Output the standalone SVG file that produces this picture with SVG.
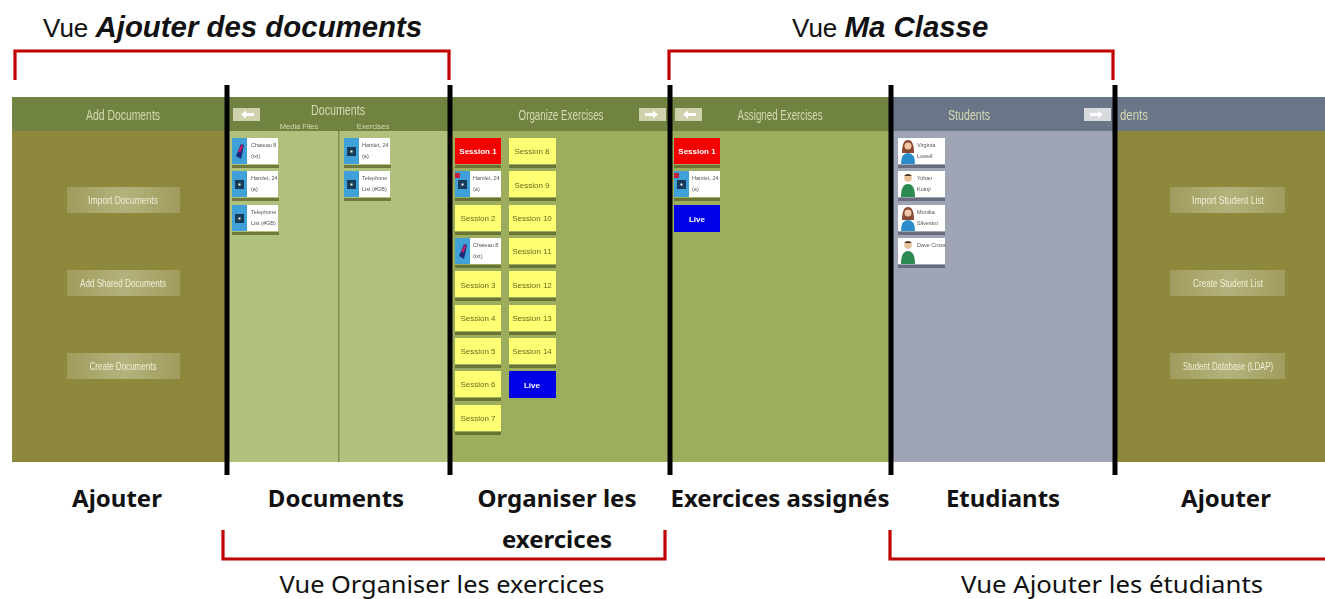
<svg xmlns="http://www.w3.org/2000/svg" width="1325" height="599" viewBox="0 0 1325 599">
<style>
text{font-family:"Liberation Sans",Arial,sans-serif}
.cal{font-family:"Noto Sans","Open Sans",sans-serif;fill:#111}
.b{font-weight:700;font-size:24px;text-anchor:middle}
.r{font-size:24px;text-anchor:middle}
.top{font-size:26px;fill:#111}
.bi{font-weight:700;font-style:italic;font-size:29.400px}
.h{font-size:14px;fill:#d5dab4;text-anchor:middle}
.sub{font-size:7.500px;fill:#d5dab4;text-anchor:middle}
.bt{font-size:10.500px;fill:#f0eed8;text-anchor:middle}
.arr{fill:#cfd2ad}
.arw{fill:#fff}
.sh{fill:#5b6128;opacity:.75}
.y{fill:#ffff73}
.yt{font-size:8px;fill:#6a6a20;text-anchor:middle}
.red{fill:#f40000}
.blue{fill:#0000e6}
.wt{font-size:8px;fill:#fff;text-anchor:middle;font-weight:700}
.w{fill:#fff}
.ct{font-size:5.500px;fill:#555}
.ib{fill:#3fa0d8}
.id{fill:#153a58}
.bar{stroke:#000;stroke-width:5;fill:none}
.br{stroke:#c00000;stroke-width:3.200;fill:none}
</style>
<defs>
<filter id="soft" x="-5%" y="-5%" width="110%" height="110%"><feGaussianBlur stdDeviation="0.75"/></filter>
<linearGradient id="bg" x1="0" y1="0" x2="1" y2="0"><stop offset="0" stop-color="#a09c5e"/><stop offset=".5" stop-color="#b4b27c"/><stop offset="1" stop-color="#a09c5e"/></linearGradient>
<g id="doc"><rect class="w" width="46" height="26"/><rect class="ib" width="15" height="26"/><rect class="id" x="3" y="9" width="9" height="9"/><rect class="w" x="6.500" y="12.500" width="2" height="2"/></g>
<g id="pic"><rect class="w" width="46" height="26"/><rect class="ib" width="15" height="26"/><path d="M4 18 L9 6 L12 7 L9 21 Z" fill="#1a2a7a"/><path d="M6 13 L10 6 L11 9 L8 15 Z" fill="#c0206a"/></g>
<g id="girl"><rect class="w" width="47" height="26"/><path d="M4 15 Q4 2 10 2 Q16 2 16 15 Z" fill="#8a4a32"/><circle cx="10" cy="8" r="3.500" fill="#f0c8a8"/><path d="M3 26 Q3 15 10 15 Q17 15 17 26 Z" fill="#2a8cc8"/></g>
<g id="boy"><rect class="w" width="47" height="26"/><circle cx="10" cy="7" r="3.800" fill="#e8c098"/><path d="M6 5 Q10 1 14 5 Z" fill="#4a3020"/><path d="M3 26 Q3 13 10 13 Q17 13 17 26 Z" fill="#2f8a52"/></g>
</defs>

<g id="panel-add-documents" filter="url(#soft)">
<rect x="12" y="131" width="215" height="331" fill="#8e883d"/>
<rect x="12" y="97" width="215" height="34" fill="#71833f"/>
<text class="h" x="123" y="120" textLength="74" lengthAdjust="spacingAndGlyphs">Add Documents</text>
<rect x="67" y="187" width="113" height="26" fill="url(#bg)"/><text class="bt" x="123" y="204" textLength="70" lengthAdjust="spacingAndGlyphs">Import Documents</text>
<rect x="67" y="270" width="113" height="26" fill="url(#bg)"/><text class="bt" x="123" y="287" textLength="86" lengthAdjust="spacingAndGlyphs">Add Shared Documents</text>
<rect x="67" y="353" width="113" height="26" fill="url(#bg)"/><text class="bt" x="123" y="370" textLength="67" lengthAdjust="spacingAndGlyphs">Create Documents</text>
</g>

<g id="panel-documents" filter="url(#soft)">
<rect x="227" y="131" width="223" height="331" fill="#b0c17e"/>
<rect x="227" y="97" width="223" height="34" fill="#71833f"/>
<rect x="338" y="131" width="1.500" height="331" fill="#7f9150"/>
<rect class="arr" x="233" y="108" width="27" height="13"/><path class="arw" d="M241 114.500 L246 110.500 V113 H254 V116 H246 V118.500 Z"/>
<text class="h" x="338" y="115" textLength="54" lengthAdjust="spacingAndGlyphs">Documents</text>
<text class="sub" x="299" y="129">Media Files</text><text class="sub" x="373" y="129">Exercises</text>
<rect class="sh" x="232" y="165" width="47" height="3"/><use href="#pic" x="232" y="138"/><text class="ct" x="251" y="147">Chateau 8</text><text class="ct" x="251" y="158">(txt)</text>
<rect class="sh" x="232" y="198" width="47" height="3"/><use href="#doc" x="232" y="171"/><text class="ct" x="251" y="180">Hamlet, 24</text><text class="ct" x="251" y="191">(a)</text>
<rect class="sh" x="232" y="232" width="47" height="3"/><use href="#doc" x="232" y="205"/><text class="ct" x="251" y="214">Telephone</text><text class="ct" x="251" y="225">List (#GB)</text>
<rect class="sh" x="344" y="165" width="47" height="3"/><use href="#doc" x="344" y="138"/><text class="ct" x="362" y="147">Hamlet, 24</text><text class="ct" x="362" y="158">(a)</text>
<rect class="sh" x="344" y="198" width="47" height="3"/><use href="#doc" x="344" y="171"/><text class="ct" x="362" y="180">Telephone</text><text class="ct" x="362" y="191">List (#GB)</text>
</g>

<g id="panel-organize-exercises" filter="url(#soft)">
<rect x="450" y="131" width="220" height="331" fill="#9cae5d"/>
<rect x="450" y="97" width="220" height="34" fill="#71833f"/>
<text class="h" x="561" y="120" textLength="85" lengthAdjust="spacingAndGlyphs">Organize Exercises</text>
<rect class="arr" x="639" y="108" width="27" height="13"/><path class="arw" d="M658 114.500 L653 110.500 V113 H645 V116 H653 V118.500 Z"/>
<rect class="sh" x="455" y="165" width="46" height="3"/><rect class="red" x="455" y="138" width="46" height="26"/><text class="wt" x="478" y="154">Session 1</text>
<rect class="sh" x="455" y="198" width="46" height="3"/><use href="#doc" x="455" y="171"/><rect x="455" y="173" width="5" height="5" fill="#c0203a"/><text class="ct" x="473" y="180">Hamlet, 24</text><text class="ct" x="473" y="191">(a)</text>
<rect class="sh" x="455" y="232" width="46" height="3"/><rect class="y" x="455" y="205" width="46" height="26"/><text class="yt" x="478" y="221">Session 2</text>
<rect class="sh" x="455" y="265" width="46" height="3"/><use href="#pic" x="455" y="238"/><text class="ct" x="473" y="247">Chateau 8</text><text class="ct" x="473" y="258">(txt)</text>
<rect class="sh" x="455" y="298" width="46" height="3"/><rect class="y" x="455" y="271" width="46" height="26"/><text class="yt" x="478" y="288">Session 3</text>
<rect class="sh" x="455" y="332" width="46" height="3"/><rect class="y" x="455" y="305" width="46" height="26"/><text class="yt" x="478" y="321">Session 4</text>
<rect class="sh" x="455" y="365" width="46" height="3"/><rect class="y" x="455" y="338" width="46" height="26"/><text class="yt" x="478" y="354">Session 5</text>
<rect class="sh" x="455" y="398" width="46" height="3"/><rect class="y" x="455" y="371" width="46" height="26"/><text class="yt" x="478" y="387">Session 6</text>
<rect class="sh" x="455" y="432" width="46" height="3"/><rect class="y" x="455" y="405" width="46" height="26"/><text class="yt" x="478" y="421">Session 7</text>
<rect class="sh" x="509" y="165" width="47" height="3"/><rect class="y" x="509" y="138" width="47" height="26"/><text class="yt" x="532" y="154">Session 8</text>
<rect class="sh" x="509" y="198" width="47" height="3"/><rect class="y" x="509" y="171" width="47" height="26"/><text class="yt" x="532" y="188">Session 9</text>
<rect class="sh" x="509" y="232" width="47" height="3"/><rect class="y" x="509" y="205" width="47" height="26"/><text class="yt" x="532" y="221">Session 10</text>
<rect class="sh" x="509" y="265" width="47" height="3"/><rect class="y" x="509" y="238" width="47" height="26"/><text class="yt" x="532" y="254">Session 11</text>
<rect class="sh" x="509" y="298" width="47" height="3"/><rect class="y" x="509" y="271" width="47" height="26"/><text class="yt" x="532" y="288">Session 12</text>
<rect class="sh" x="509" y="332" width="47" height="3"/><rect class="y" x="509" y="305" width="47" height="26"/><text class="yt" x="532" y="321">Session 13</text>
<rect class="sh" x="509" y="365" width="47" height="3"/><rect class="y" x="509" y="338" width="47" height="26"/><text class="yt" x="532" y="354">Session 14</text>
<rect class="blue" x="509" y="371" width="47" height="27"/><text class="wt" x="532" y="388">Live</text>
</g>

<g id="panel-assigned-exercises" filter="url(#soft)">
<rect x="670" y="131" width="221" height="331" fill="#9cae5d"/>
<rect x="670" y="97" width="221" height="34" fill="#71833f"/>
<rect class="arr" x="675" y="108" width="27" height="13"/><path class="arw" d="M683 114.500 L688 110.500 V113 H696 V116 H688 V118.500 Z"/>
<text class="h" x="780" y="120" textLength="85" lengthAdjust="spacingAndGlyphs">Assigned Exercises</text>
<rect class="sh" x="674" y="165" width="46" height="3"/><rect class="red" x="674" y="138" width="46" height="26"/><text class="wt" x="697" y="154">Session 1</text>
<rect class="sh" x="674" y="198" width="46" height="3"/><use href="#doc" x="674" y="171"/><rect x="674" y="173" width="5" height="5" fill="#c0203a"/><text class="ct" x="692" y="180">Hamlet, 24</text><text class="ct" x="692" y="191">(a)</text>
<rect class="blue" x="674" y="205" width="46" height="27"/><text class="wt" x="697" y="222">Live</text>
</g>

<g id="panel-students" filter="url(#soft)">
<rect x="891" y="131" width="224" height="331" fill="#a0a5b5"/>
<rect x="891" y="97" width="224" height="34" fill="#6b7488"/>
<text class="h" x="969" y="120" textLength="42" lengthAdjust="spacingAndGlyphs">Students</text>
<rect class="arr" x="1084" y="108" width="27" height="13" style="fill:#d8dade"/><path class="arw" d="M1103 114.500 L1098 110.500 V113 H1090 V116 H1098 V118.500 Z"/>
<rect class="sh" x="898" y="165" width="47" height="3" style="fill:#555a68"/><use href="#girl" x="898" y="138"/><text class="ct" x="917" y="147">Virginia</text><text class="ct" x="917" y="158">Lowell</text>
<rect class="sh" x="898" y="198" width="47" height="3" style="fill:#555a68"/><use href="#boy" x="898" y="171"/><text class="ct" x="917" y="180">Yohan</text><text class="ct" x="917" y="191">Kutnji</text>
<rect class="sh" x="898" y="232" width="47" height="3" style="fill:#555a68"/><use href="#girl" x="898" y="205"/><text class="ct" x="917" y="214">Monika</text><text class="ct" x="917" y="225">Silvestro</text>
<rect class="sh" x="898" y="265" width="47" height="3" style="fill:#555a68"/><use href="#boy" x="898" y="238"/><text class="ct" x="917" y="247">Dave Cross</text>
</g>

<g id="panel-add-students" filter="url(#soft)">
<rect x="1115" y="131" width="210" height="331" fill="#8e883d"/>
<rect x="1115" y="97" width="210" height="34" fill="#6b7488"/>
<text class="h" x="1148" y="120" style="text-anchor:end" textLength="28" lengthAdjust="spacingAndGlyphs">dents</text>
<rect x="1170" y="187" width="115" height="26" fill="url(#bg)"/><text class="bt" x="1228" y="204" textLength="72" lengthAdjust="spacingAndGlyphs">Import Student List</text>
<rect x="1170" y="270" width="115" height="26" fill="url(#bg)"/><text class="bt" x="1228" y="287" textLength="70" lengthAdjust="spacingAndGlyphs">Create Student List</text>
<rect x="1170" y="353" width="115" height="26" fill="url(#bg)"/><text class="bt" x="1228" y="370" textLength="90" lengthAdjust="spacingAndGlyphs">Student Database (LDAP)</text>
</g>

<g id="connectors">
<path class="bar" d="M227 85V475M450 85V475M670 85V475M891 85V475M1115 85V475"/>
<path class="br" d="M15 80V51H449V80"/>
<path class="br" d="M669 80V51H1113V80"/>
<path class="br" d="M223 530V559H665V530"/>
<path class="br" d="M890 530V559H1325"/>
</g>

<g id="title-vue-ajouter-des-documents"><text class="top" x="43" y="37">Vue <tspan class="bi">Ajouter des documents</tspan></text></g>
<g id="title-vue-ma-classe"><text class="top" x="792" y="37">Vue <tspan class="bi">Ma Classe</tspan></text></g>
<g id="label-ajouter-1"><text class="cal b" x="117" y="507">Ajouter</text></g>
<g id="label-documents"><text class="cal b" x="336" y="507">Documents</text></g>
<g id="label-organiser"><text class="cal b" x="557" y="507" textLength="159" lengthAdjust="spacingAndGlyphs">Organiser les</text><text class="cal b" x="557" y="548">exercices</text></g>
<g id="label-exercices-assignes"><text class="cal b" x="780" y="507" textLength="219" lengthAdjust="spacingAndGlyphs">Exercices assignés</text></g>
<g id="label-etudiants"><text class="cal b" x="1003" y="507">Etudiants</text></g>
<g id="label-ajouter-2"><text class="cal b" x="1226" y="507">Ajouter</text></g>
<g id="label-vue-organiser"><text class="cal r" x="442" y="593" textLength="325" lengthAdjust="spacingAndGlyphs">Vue Organiser les exercices</text></g>
<g id="label-vue-ajouter"><text class="cal r" x="1112" y="593" textLength="302" lengthAdjust="spacingAndGlyphs">Vue Ajouter les étudiants</text></g>
</svg>
